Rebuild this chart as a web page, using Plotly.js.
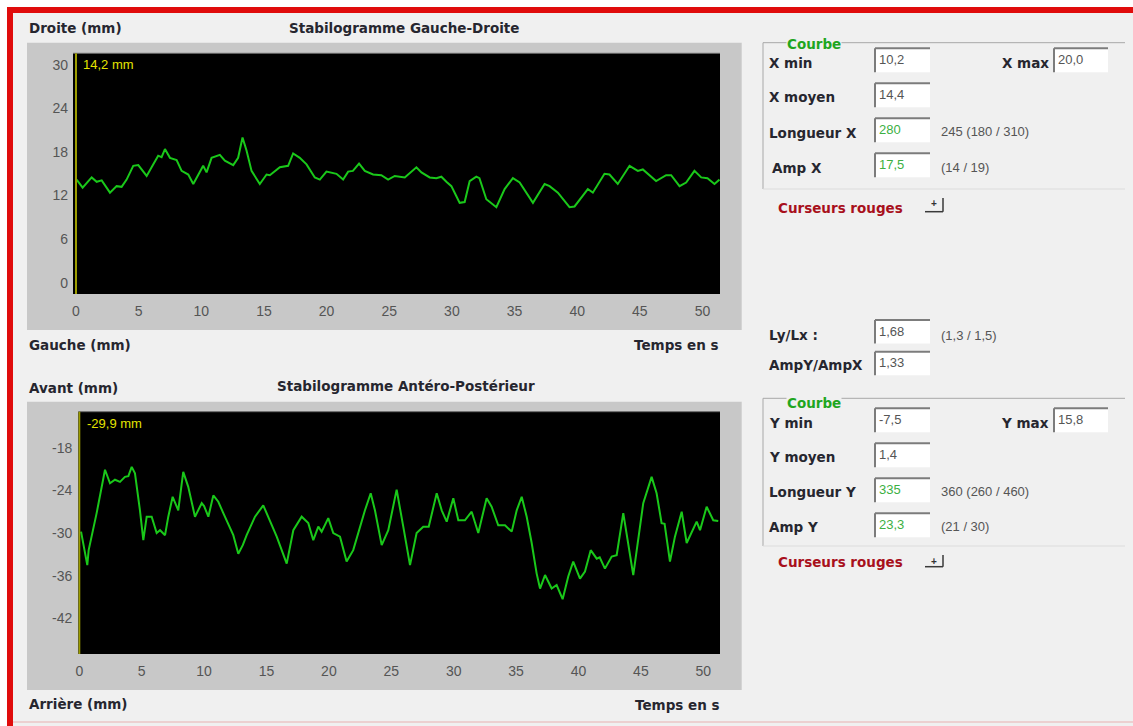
<!DOCTYPE html>
<html>
<head>
<meta charset="utf-8">
<script src="https://cdn.plot.ly/plotly-3.0.1.min.js"></script>
<style>html,body{margin:0;padding:0;background:#f0f0f0;}#chart{width:1133px;height:726px;}</style>
</head>
<body>
<div id="chart"></div>
<script>
// ---- Data ----
const timeLR = [0.05,0.53,1.25,1.65,2.05,2.71,3.24,3.64,4.04,4.57,4.97,5.64,6.17,6.56,6.83,7.10,7.50,8.03,8.43,8.96,9.36,9.75,10.15,10.42,10.82,11.48,11.88,12.55,12.94,13.29,13.61,14.01,14.67,15.21,15.47,16.27,16.93,17.33,17.86,18.40,19.06,19.46,19.99,20.79,21.32,21.72,22.10,22.59,23.05,23.71,24.37,24.91,25.44,26.24,27.17,27.57,28.23,28.76,29.16,29.56,29.96,30.36,30.62,31.02,31.42,31.95,32.20,32.75,33.55,34.21,34.87,35.41,36.47,37.40,37.80,38.46,39.39,39.79,40.85,41.25,42.18,42.58,43.24,44.18,44.84,45.24,46.30,47.10,47.50,48.17,48.70,49.36,49.90,50.40,50.96,51.36];
const valuesLR = [14.2,13.1,14.5,13.9,14.1,12.4,13.3,13.2,14.2,16.1,16.2,14.7,16.3,17.5,17.3,18.4,17.2,16.9,15.4,14.9,13.6,14.9,16.1,15.2,17.2,17.6,16.8,16.2,17.2,20.0,18.2,15.4,13.6,14.9,14.8,15.9,16.1,17.8,17.2,16.3,14.5,14.2,15.3,15.0,14.2,15.3,15.4,16.4,15.4,14.9,14.8,14.2,14.7,14.5,15.9,15.2,14.5,14.4,14.6,13.9,13.3,11.9,11.0,11.1,14.0,14.6,14.4,11.5,10.4,12.9,14.4,13.8,11.0,13.6,13.3,12.4,10.4,10.5,12.9,12.4,15.0,14.9,13.6,16.1,15.4,15.6,14.0,14.8,14.8,13.3,13.8,15.4,14.5,14.4,13.6,14.2];
const timeAP = [0.14,0.64,0.75,1.39,2.06,2.46,2.86,3.26,3.66,3.93,4.20,4.46,4.86,5.13,5.40,5.80,6.20,6.47,6.87,7.13,7.48,7.93,8.33,8.73,9.27,9.81,10.00,10.34,10.74,11.14,11.54,12.34,12.74,13.10,13.41,14.08,14.74,15.14,15.82,16.62,17.15,17.82,18.35,18.75,19.15,19.42,19.95,20.35,20.89,21.42,21.95,22.89,23.35,23.69,24.23,24.76,25.43,25.96,26.50,27.03,27.56,28.00,28.64,29.04,29.44,29.97,30.37,30.90,31.44,31.97,32.64,33.04,33.57,34.11,34.65,35.05,35.45,35.85,36.25,36.65,36.92,37.32,37.85,38.25,38.73,39.18,39.58,40.12,40.52,40.98,41.46,41.70,42.12,42.66,43.06,43.59,44.39,45.19,45.86,46.26,46.66,46.90,47.33,47.73,48.27,48.67,48.90,49.47,49.74,50.27,50.80,51.20];
const valuesAP = [-29.8,-34.5,-32.4,-27.2,-21.1,-23.0,-22.5,-22.8,-22.1,-22.0,-20.7,-21.6,-26.8,-31.0,-27.7,-27.7,-30.0,-29.6,-30.3,-27.7,-24.9,-26.8,-21.4,-23.5,-27.7,-25.8,-26.2,-27.7,-24.7,-25.6,-27.2,-30.3,-32.9,-31.7,-30.3,-27.7,-26.1,-27.7,-30.5,-34.3,-29.6,-27.7,-28.6,-31.0,-29.1,-29.8,-27.9,-30.0,-30.5,-34.0,-32.4,-26.8,-24.4,-26.8,-31.7,-29.6,-23.9,-29.1,-34.5,-30.0,-29.1,-29.1,-24.4,-26.8,-28.4,-25.1,-28.2,-28.2,-27.0,-30.0,-25.1,-26.3,-28.9,-28.9,-29.8,-26.8,-24.9,-27.7,-31.4,-35.7,-37.8,-35.9,-37.8,-37.3,-39.3,-36.1,-34.0,-36.4,-35.4,-32.4,-33.6,-33.4,-35.0,-33.3,-33.1,-27.2,-35.9,-25.8,-22.1,-24.4,-28.6,-28.7,-34.0,-30.5,-27.0,-31.4,-30.5,-28.4,-29.6,-26.3,-28.2,-28.3];
const xTicks = [0,5,10,15,20,25,30,35,40,45,50];
const yTicksLR = [0,6,12,18,24,30];
const yTicksAP = [-42,-36,-30,-24,-18];
const yTickTextAP = ["-42","-36","-30","-24","-18"];
const titleLR = "Stabilogramme Gauche-Droite";
const titleAP = "Stabilogramme Antéro-Postérieur";
const cursorLR = "14,2 mm";
const cursorAP = "-29,9 mm";
// right panel values
const statsXLabels = ["X min","X moyen","Longueur X","Amp X"];
const statsXValues = ["10,2","14,4","280","17,5"];
const statsXNorms = ["","","245 (180 / 310)","(14 / 19)"];
const xMaxValue = "20,0";
const ratioLabels = ["Ly/Lx :","AmpY/AmpX"];
const ratioValues = ["1,68","1,33"];
const ratioNorms = ["(1,3 / 1,5)",""];
const statsYLabels = ["Y min","Y moyen","Longueur Y","Amp Y"];
const statsYValues = ["-7,5","1,4","335","23,3"];
const statsYNorms = ["","","360 (260 / 460)","(21 / 30)"];
const yMaxValue = "15,8";
const greenValueIdx = [2,3];

// ---- Layout helpers ----
const W = 1133, H = 726;
const px = x => x / W;
const py = y => 1 - y / H;
const shapes = [];
const annotations = [];
const BOLD = "DejaVu Sans";
const REG = "Liberation Sans";
const LABEL_COL = "#26262f";

function rect(x0,y0,x1,y1,fill,extra){ shapes.push(Object.assign({type:'rect',xref:'paper',yref:'paper',x0:px(x0),x1:px(x1),y0:py(y1),y1:py(y0),fillcolor:fill,line:{width:0},layer:'below'},extra||{})); }
function line(x0,y0,x1,y1,color,w){ shapes.push({type:'line',xref:'paper',yref:'paper',x0:px(x0),x1:px(x1),y0:py(y0),y1:py(y1),line:{color:color,width:w},layer:'below'}); }
function text(t,x,y,opts){
  opts = opts||{};
  annotations.push({text:t,xref:'paper',yref:'paper',x:px(x),y:py(y),xanchor:opts.anchor||'left',yanchor:'middle',showarrow:false,
    font:{family:opts.family||BOLD,size:opts.size||13.5,color:opts.color||LABEL_COL},bgcolor:opts.bg||'rgba(0,0,0,0)',borderpad:0});
}
function boldText(t,x,y,opts){ opts=opts||{}; text('<b>'+t+'</b>',x,y,opts); }
function box(x0,y0,x1,y1){ rect(x0,y0,x1,y1,'#ffffff'); line(x0,y0,x1,y0,'#7c7c7c',2); line(x0,y0,x0,y1,'#7c7c7c',2); }
function button(x0,y0,x1,y1){ rect(x0,y0,x1,y1,'#f0f0f0'); line(x1,y0,x1,y1,'#3a3a3a',1.5); line(x0,y1,x1,y1,'#3a3a3a',1.5); text('<b>+</b>',(x0+x1)/2,y0+6,{anchor:'center',family:REG,size:10,color:'#333'}); }

// outer frame
rect(0,0,W,7,'#ffffff');
rect(0,0,7,H,'#ffffff');
line(7,10,W,10,'#e00c0c',6);
line(10,7,10,H,'#e00c0c',6);
line(13,722,W,722,'#e8b0b0',1);

// chart panels
rect(27,42.7,741.7,330,'#c8c8c8');
rect(73,53.3,720,294,'#000000');
line(73,53.3,720,53.3,'#6a6a6a',1);
rect(27,401.7,741.7,690,'#c8c8c8');
rect(78.3,411.7,720,654,'#000000');
line(78.3,411.7,720,411.7,'#6a6a6a',1);

// chart texts
boldText('Droite (mm)',28,28);
boldText(titleLR,403.5,28,{anchor:'center'});
boldText('Gauche (mm)',28,345);
boldText('Temps en s',720,345,{anchor:'right'});
boldText('Avant (mm)',28,388);
boldText(titleAP,405.5,386,{anchor:'center'});
boldText('Arrière (mm)',28,704);
boldText('Temps en s',721,705,{anchor:'right'});
text(cursorLR,82,65,{family:REG,size:13,color:'#e4e400'});
text(cursorAP,86,423.5,{family:REG,size:13,color:'#e4e400'});

// right panel - X block
function fieldset(top,bottom){
  line(763,top,1125,top,'#a8a8a8',1);
  line(763,top,763,bottom,'#a8a8a8',1);
  line(763,bottom,1125,bottom,'#dcdcdc',1);
}
fieldset(42.7,189);
boldText('Courbe',786,44,{color:'#1fa61f',bg:'#f0f0f0'});
const rowXY = [63.3,97.3,132.7,168.3];
const boxTopX = [48.3,83.3,118.3,153.3];
statsXLabels.forEach((lab,i)=>{
  boldText(lab,i===3?771:768,rowXY[i]);
  box(875,boxTopX[i],930,boxTopX[i]+24);
  text(statsXValues[i],878,boxTopX[i]+11,{family:REG,size:13,color:greenValueIdx.includes(i)?'#3cb043':'#555555'});
  if(statsXNorms[i]) text(statsXNorms[i],940,rowXY[i]-1,{family:REG,size:13,color:'#555555'});
});
boldText('X max',1050,63.3,{anchor:'right'});
box(1054,48.3,1108,72.3);
text(xMaxValue,1057,59.3,{family:REG,size:13,color:'#555555'});
boldText('Curseurs rouges',777,208.3,{color:'#a8101c'});
button(925,198,943,211.7);

// ratios
const ratioRows = [335,365];
const ratioBoxTop = [320,351.7];
ratioLabels.forEach((lab,i)=>{
  boldText(lab,768,ratioRows[i]);
  box(875,ratioBoxTop[i],930,ratioBoxTop[i]+23.5);
  text(ratioValues[i],878,ratioBoxTop[i]+11,{family:REG,size:13,color:'#555555'});
  if(ratioNorms[i]) text(ratioNorms[i],940,ratioRows[i],{family:REG,size:13,color:'#555555'});
});

// Y block
fieldset(398.3,546);
boldText('Courbe',786,402.7,{color:'#1fa61f',bg:'#f0f0f0'});
const rowYY = [423.3,456.7,491.7,526.7];
const boxTopY = [408.3,443.3,478.3,513.3];
statsYLabels.forEach((lab,i)=>{
  boldText(lab,768,rowYY[i]);
  box(875,boxTopY[i],930,boxTopY[i]+24);
  text(statsYValues[i],878,boxTopY[i]+11,{family:REG,size:13,color:greenValueIdx.includes(i)?'#3cb043':'#555555'});
  if(statsYNorms[i]) text(statsYNorms[i],940,rowYY[i],{family:REG,size:13,color:'#555555'});
});
boldText('Y max',1050,423.3,{anchor:'right'});
box(1054,408.3,1108,432.3);
text(yMaxValue,1057,419.3,{family:REG,size:13,color:'#555555'});
boldText('Curseurs rouges',777,561.7,{color:'#a8101c'});
button(925,555,943,566.7);

// yellow cursors at t=0
shapes.push({type:'line',xref:'x',yref:'y domain',x0:0,x1:0,y0:0,y1:1,line:{color:'#9c9c00',width:2},layer:'above'});
shapes.push({type:'line',xref:'x2',yref:'y2 domain',x0:0,x1:0,y0:0,y1:1,line:{color:'#9c9c00',width:2},layer:'above'});

const tickFont = {family:REG,size:14,color:'#555555'};
const traces = [
  {x:timeLR,y:valuesLR,type:'scatter',mode:'lines',line:{color:'#1ac81a',width:2},xaxis:'x',yaxis:'y',hoverinfo:'skip'},
  {x:timeAP,y:valuesAP,type:'scatter',mode:'lines',line:{color:'#1ac81a',width:2},xaxis:'x2',yaxis:'y2',hoverinfo:'skip'}
];
const axBase = {showgrid:false,zeroline:false,showline:false,ticks:'',tickfont:tickFont,fixedrange:true};
const layout = {
  width:W,height:H,margin:{l:0,r:0,t:0,b:0},
  paper_bgcolor:'#f0f0f0',plot_bgcolor:'rgba(0,0,0,0)',showlegend:false,
  xaxis:Object.assign({},axBase,{domain:[px(73),px(720)],range:[-0.24,51.4],tickvals:xTicks,anchor:'y',ticklabelstandoff:7}),
  yaxis:Object.assign({},axBase,{domain:[py(294),py(53.3)],range:[-1.56,31.6],tickvals:yTicksLR,anchor:'x',ticklabelstandoff:4}),
  xaxis2:Object.assign({},axBase,{domain:[px(78.3),px(720)],range:[-0.08,51.34],tickvals:xTicks,anchor:'y2',ticklabelstandoff:7}),
  yaxis2:Object.assign({},axBase,{domain:[py(654),py(411.7)],range:[-47.0,-12.94],tickvals:yTicksAP,ticktext:yTickTextAP,anchor:'x2',ticklabelstandoff:5}),
  shapes:shapes,annotations:annotations
};
Plotly.newPlot('chart',traces,layout,{displayModeBar:false,staticPlot:true});
</script>
</body>
</html>
